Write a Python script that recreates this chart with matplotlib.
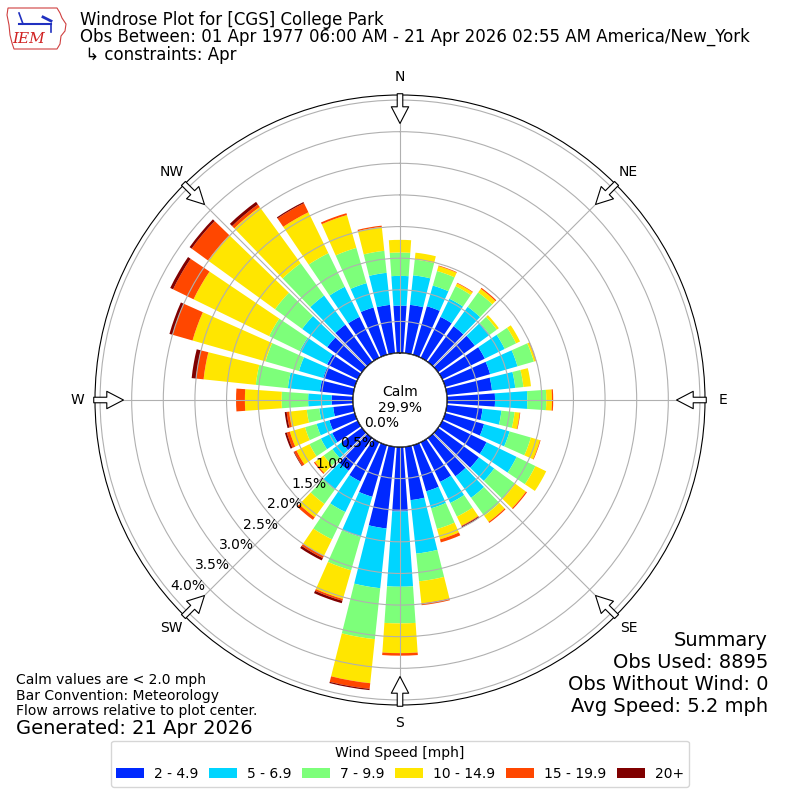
import numpy as np
import matplotlib.pyplot as plt
from matplotlib.patches import Circle, Polygon

# wind direction (deg, where the wind blows from), 10 degree sectors
directions = np.arange(0, 360, 10)
speed_bins = ['2 - 4.9', '5 - 6.9', '7 - 9.9', '10 - 14.9', '15 - 19.9', '20+']

# frequency (%) of each speed bin per direction
freq_2_5 = [0.75, 0.77, 0.80, 0.72, 0.70, 0.72, 0.75, 0.74, 0.72, 0.76, 0.57, 0.64,
            0.78, 0.80, 0.75, 0.70, 0.76, 0.85, 1.02, 1.30, 0.85, 0.69, 0.64, 0.40,
            0.45, 0.42, 0.32, 0.34, 0.53, 0.52, 0.54, 0.68, 0.73, 0.72, 0.78, 0.77]
freq_5_7 = [0.47, 0.47, 0.34, 0.32, 0.38, 0.29, 0.35, 0.45, 0.37, 0.51, 0.30, 0.42,
            0.53, 0.30, 0.42, 0.37, 0.28, 0.85, 1.19, 0.95, 0.66, 0.54, 0.37, 0.18,
            0.20, 0.21, 0.22, 0.37, 0.51, 0.40, 0.48, 0.49, 0.57, 0.53, 0.40, 0.51]
freq_7_10 = [0.37, 0.25, 0.24, 0.22, 0.28, 0.14, 0.20, 0.27, 0.13, 0.30, 0.21, 0.35,
             0.33, 0.41, 0.35, 0.24, 0.34, 0.44, 0.58, 0.81, 0.55, 0.48, 0.28, 0.17,
             0.20, 0.19, 0.20, 0.42, 0.51, 0.55, 0.54, 0.53, 0.63, 0.59, 0.58, 0.35]
freq_10_15 = [0.20, 0.11, 0.08, 0.05, 0.07, 0.04, 0.07, 0.03, 0.12, 0.09, 0.08, 0.15,
              0.19, 0.21, 0.12, 0.16, 0.17, 0.35, 0.47, 0.70, 0.47, 0.29, 0.26, 0.17,
              0.23, 0.25, 0.28, 0.58, 0.83, 1.20, 1.33, 1.31, 1.10, 0.72, 0.54, 0.38]
freq_15_20 = [0.00, 0.00, 0.01, 0.01, 0.02, 0.00, 0.00, 0.01, 0.00, 0.02, 0.01, 0.01,
              0.00, 0.02, 0.02, 0.01, 0.05, 0.03, 0.04, 0.09, 0.03, 0.04, 0.05, 0.02,
              0.04, 0.05, 0.04, 0.14, 0.12, 0.33, 0.36, 0.32, 0.05, 0.16, 0.03, 0.02]
freq_20 = [0.00, 0.00, 0.00, 0.00, 0.00, 0.00, 0.00, 0.00, 0.00, 0.00, 0.00, 0.00,
           0.00, 0.00, 0.00, 0.02, 0.00, 0.00, 0.00, 0.02, 0.04, 0.04, 0.00, 0.00,
           0.01, 0.03, 0.03, 0.00, 0.07, 0.05, 0.05, 0.04, 0.05, 0.02, 0.00, 0.00]
series = [freq_2_5, freq_5_7, freq_7_10, freq_10_15, freq_15_20, freq_20]

calm_pct = 29.9
compass = ['N', 'NE', 'E', 'SE', 'S', 'SW', 'W', 'NW']
rticks = np.arange(0, 4.01, 0.5)

colors = plt.get_cmap('jet')(np.linspace(0, 1, 7)[1:])

fig = plt.figure(figsize=(8, 8), dpi=100)
ax = fig.add_axes([95 / 800, 95 / 800, 610 / 800, 610 / 800], projection='polar')
ax.set_theta_zero_location('N')
ax.set_theta_direction(-1)
ax.set_axisbelow(False)

theta = np.deg2rad(directions)
width = np.deg2rad(10) * 0.8
bottom = np.zeros(len(directions))
for vals, color, label in zip(series, colors, speed_bins):
    vals = np.array(vals)
    ax.bar(theta, vals, width=width, bottom=bottom, color=color, label=label,
           linewidth=0, zorder=1)
    bottom += vals

ax.set_rorigin(-0.742)
ax.set_ylim(0, 4.08)
ax.set_yticks(rticks)
ax.set_yticklabels(['%.1f%%' % v for v in rticks], fontsize=10)
ax.set_rlabel_position(230)
ax.set_xticks(np.deg2rad(np.arange(0, 360, 45)))
ax.set_xticklabels(compass, fontsize=10)
ax.tick_params(axis='x', pad=2.5)
ax.grid(True, color='#b0b0b0', lw=0.8)

# calm circle in the middle
ax.add_patch(Circle((0.5, 0.5), 47 / 610, transform=ax.transAxes, fc='white',
                    ec='black', lw=1, zorder=3))
ax.text(0.5, 0.5, 'Calm\n%.1f%%' % calm_pct, transform=ax.transAxes, ha='center',
        va='center', fontsize=10, zorder=4)

# flow arrows pointing at the center
for ang in np.deg2rad(np.arange(0, 360, 45)):
    ax.annotate('', xy=(ang, 3.63), xytext=(ang, 4.10),
                arrowprops=dict(arrowstyle='simple,head_length=1.2,head_width=1.25,tail_width=0.4',
                                mutation_scale=10, fc='white', ec='black', lw=0.8,
                                shrinkA=0, shrinkB=0),
                annotation_clip=False, zorder=5)

# header
fig.text(80 / 800, 1 - 20 / 800, 'Windrose Plot for [CGS] College Park', fontsize=12, va='center')
fig.text(80 / 800, 1 - 37 / 800,
         'Obs Between: 01 Apr 1977 06:00 AM - 21 Apr 2026 02:55 AM America/New_York',
         fontsize=12, va='center')
fig.text(80 / 800, 1 - 55 / 800, ' \u21b3 constraints: Apr', fontsize=12, va='center')

# rough IEM logo
lax = fig.add_axes([5 / 800, 1 - 50 / 800, 63 / 800, 45 / 800])
lax.set_xlim(0, 63)
lax.set_ylim(45, 0)
lax.axis('off')
lax.add_patch(Polygon([(3, 3), (52, 3), (55, 8), (57, 13), (61, 19), (60, 26), (56, 31),
                       (55, 39), (52, 44), (9, 44), (7, 38), (5, 30), (4, 20), (2, 10)],
                      closed=True, fill=False, ec='#d04040', lw=0.8))
lax.plot([14, 46], [19, 19], color='#2030c0', lw=1.5)
lax.plot([14, 18], [8, 19], color='#2030c0', lw=1.2)
lax.plot([38, 46], [12, 16], color='#2030c0', lw=2)
lax.plot([46, 46], [19, 27], color='#2030c0', lw=1.2)
lax.text(24, 34, 'IEM', color='#d02020', fontsize=11, family='DejaVu Serif',
         style='italic', ha='center', va='center')

# notes
fig.text(16 / 800, 1 - 680 / 800, 'Calm values are < 2.0 mph', fontsize=10, va='center')
fig.text(16 / 800, 1 - 696 / 800, 'Bar Convention: Meteorology', fontsize=10, va='center')
fig.text(16 / 800, 1 - 711 / 800, 'Flow arrows relative to plot center.', fontsize=10, va='center')
fig.text(16 / 800, 1 - 729 / 800, 'Generated: 21 Apr 2026', fontsize=14, va='center')

summary = ['Summary', 'Obs Used: 8895', 'Obs Without Wind: 0', 'Avg Speed: 5.2 mph']
for i, line in enumerate(summary):
    fig.text(768 / 800, 1 - (640 + 22 * i) / 800, line, fontsize=14, ha='right', va='center')

fig.legend(*ax.get_legend_handles_labels(), loc='lower center', bbox_to_anchor=(0.5, 0.008),
           ncol=6, title='Wind Speed [mph]', fontsize=10, title_fontsize=10,
           columnspacing=0.8, handletextpad=0.7)

fig.savefig('out.png', dpi=100)
